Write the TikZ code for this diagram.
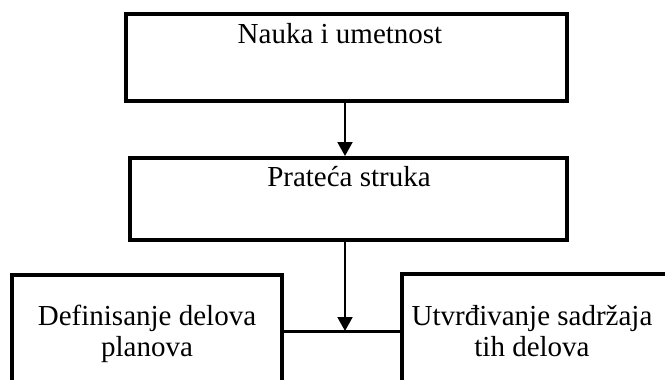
\documentclass[tikz,border=0pt]{standalone}
\usepackage{fontspec}
\setmainfont{Liberation Serif}
\usetikzlibrary{arrows.meta}
\begin{document}
\begin{tikzpicture}[x=1pt,y=-1pt,
    box/.style={draw,line width=4pt,inner sep=0pt},
    txt/.style={anchor=base,align=center,inner sep=0pt,font=\fontsize{29}{31}\selectfont},
    arr/.style={line width=2pt,-{Triangle[length=14pt,width=15pt]}}]
      \clip (0,0) rectangle (665,380);
      \draw
        (346.5,57.5) node[box,minimum width=441pt,minimum height=87pt] (nauka){}
        (348.5,199) node[box,minimum width=437pt,minimum height=82pt] (struka){}
        (147,347.5) node[box,minimum width=270pt,minimum height=145pt] (delovi){}
        (551,347) node[box,minimum width=298pt,minimum height=146pt] (sadrzaj){};
      \draw
        (340,43) node[txt] (t1){Nauka i umetnost}
        (349,186) node[txt] (t2){Prateća struka}
        (147,356) node[txt] (t3){Definisanje delova\\planova}
        (532,356) node[txt] (t4){Utvrđivanje sadržaja\\tih delova};
      \coordinate (spoj) at (345,331);
      \begin{scope}[arr]
        \draw (nauka.south -| spoj) to (struka.north -| spoj);
        \draw (struka.south -| spoj) to (spoj);
      \end{scope}
      \draw[line width=3pt] (delovi.east |- spoj) to (sadrzaj.west |- spoj);
    \end{tikzpicture}
\end{document}
